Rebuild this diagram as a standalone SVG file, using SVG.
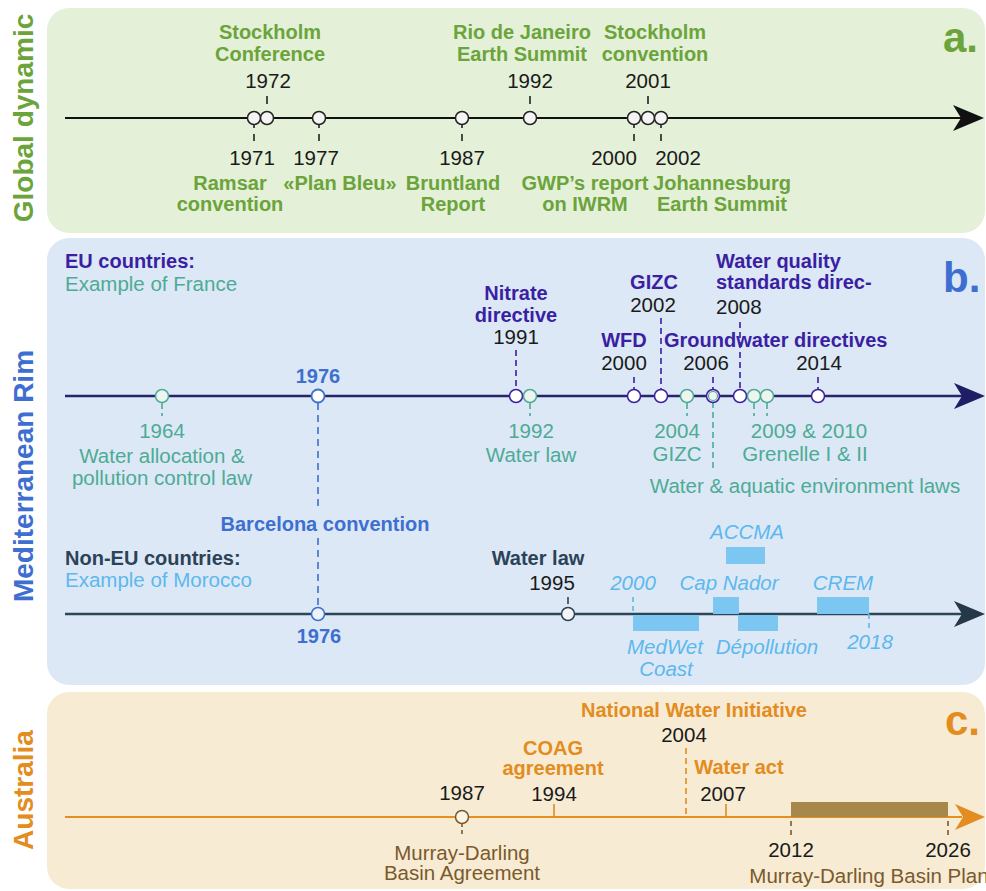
<svg xmlns="http://www.w3.org/2000/svg" width="986" height="891" viewBox="0 0 986 891">
<style>
text{font-family:"Liberation Sans",Arial,sans-serif;font-size:20.5px}
.m{text-anchor:middle}
.b{font-weight:bold;font-size:20px}
.it{font-style:italic}
.yr{fill:#1a1a1a}
.g{fill:#6ba43a}
.ind{fill:#3b1fa3}
.teal{fill:#4dab95}
.blu{fill:#3e6fd0}
.slate{fill:#2b4258}
.lb{fill:#5cb8ef}
.or{fill:#e38c20}
.br{fill:#7a5a2c}
.side{font-weight:bold;font-size:28px;text-anchor:middle}
.let{font-weight:bold;font-size:42px}
.ca{fill:#f4f4f4;stroke:#222;stroke-width:1.5}
.tk{stroke-width:1.6;fill:none}
</style>
<rect x="47" y="8" width="938" height="225" rx="22" fill="#e4f0d8"/>
<rect x="47" y="238" width="938" height="447" rx="22" fill="#dce8f5"/>
<rect x="47" y="692" width="938" height="197" rx="22" fill="#f7ebd3"/>

<text class="side g" transform="translate(33 118) rotate(-90)">Global dynamic</text>
<text class="side blu" transform="translate(33 476) rotate(-90)">Mediterranean Rim</text>
<text class="side or" transform="translate(33 790) rotate(-90)">Australia</text>
<text class="let g" x="943" y="52">a.</text>
<text class="let blu" x="943" y="292">b.</text>
<text class="let or" x="945" y="735">c.</text>

<g id="connectors">
 <!-- panel a -->
 <path d="M65 118H962" stroke="#111" stroke-width="2"/>
 <path d="M984 118L953 105L961 118L953 131Z" fill="#111"/>
 <g class="tk" stroke="#222">
  <path d="M267 96V104M530 96V104M648 96V104"/>
  <path d="M254 124V128M254 134V141M319 124V128M319 134V141M462 124V128M462 134V141M634 124V128M634 134V141M661 124V128M661 134V141"/>
 </g>
 <!-- panel b EU -->
 <path d="M65 396H962" stroke="#26246e" stroke-width="2.6"/>
 <path d="M985 396L954 383L962 396L954 409Z" fill="#1f1d63"/>
 <g class="tk" stroke="#3b1fa3" stroke-dasharray="6 4">
  <path d="M516 350V390M661 318V390M740 322V390"/>
  <path d="M634 377V390M713 377V390M818 377V390"/>
 </g>
 <g class="tk" stroke="#4dab95" stroke-dasharray="6 4">
  <path d="M162 403V416M530 403V416M687 403V416M754 403V416M767 403V416"/>
  <path d="M713 402V472"/>
 </g>
 <g class="tk" stroke="#3e6fd0" stroke-dasharray="7 5">
  <path d="M318 403V506M318 538V607"/>
 </g>
 <!-- panel b Morocco -->
 <path d="M65 614H962" stroke="#2e4457" stroke-width="2.6"/>
 <path d="M985 614L954 601L962 614L954 627Z" fill="#24384a"/>
 <g class="tk" stroke="#2b4258"><path d="M568 597V604"/></g>
 <g class="tk" stroke="#5cb8ef" stroke-dasharray="5 4"><path d="M633 597V614M869 614V632"/></g>
 <!-- panel c -->
 <path d="M65 817H962" stroke="#e58f22" stroke-width="2.2"/>
 <path d="M985 817L955 804L963 817L955 830Z" fill="#e38c20"/>
 <g class="tk" stroke="#e38c20">
  <path d="M554 804V817M726 804V817"/>
  <path d="M686 748V817" stroke-dasharray="6 4"/>
  <path d="M791 821V837M948 821V837" stroke="#7a5a2c" stroke-dasharray="5 4"/>
  <path d="M462 823V827M462 830V834" stroke="#7a5a2c"/>
 </g>
</g>

<!-- panel a nodes -->
<g id="a1971"><circle class="ca" cx="254" cy="118" r="6.5"/><text class="m yr" x="252" y="165">1971</text><text class="m b g" x="230" y="190">Ramsar</text><text class="m b g" x="230" y="211">convention</text></g>
<g id="a1972"><circle class="ca" cx="267" cy="118" r="6.5"/><text class="m b g" x="270" y="39">Stockholm</text><text class="m b g" x="270" y="61">Conference</text><text class="m yr" x="268" y="88">1972</text></g>
<g id="a1977"><circle class="ca" cx="319" cy="118" r="6.5"/><text class="m yr" x="316" y="165">1977</text><text class="m b g" x="340" y="190">«Plan Bleu»</text></g>
<g id="a1987"><circle class="ca" cx="462" cy="118" r="6.5"/><text class="m yr" x="462" y="165">1987</text><text class="m b g" x="453" y="190">Bruntland</text><text class="m b g" x="453" y="211">Report</text></g>
<g id="a1992"><circle class="ca" cx="530" cy="118" r="6.5"/><text class="m b g" x="522" y="39">Rio de Janeiro</text><text class="m b g" x="522" y="61">Earth Summit</text><text class="m yr" x="530" y="88">1992</text></g>
<g id="a2000"><circle class="ca" cx="634" cy="118" r="6.5"/><text class="m yr" x="614" y="165">2000</text><text class="m b g" x="585" y="190">GWP’s report</text><text class="m b g" x="585" y="211">on IWRM</text></g>
<g id="a2001"><circle class="ca" cx="648" cy="118" r="6.5"/><text class="m b g" x="655" y="39">Stockholm</text><text class="m b g" x="655" y="61">convention</text><text class="m yr" x="648" y="88">2001</text></g>
<g id="a2002"><circle class="ca" cx="661" cy="118" r="6.5"/><text class="m yr" x="678" y="165">2002</text><text class="m b g" x="722" y="190">Johannesburg</text><text class="m b g" x="722" y="211">Earth Summit</text></g>

<!-- panel b EU -->
<g id="eu-head"><text class="b ind" x="65" y="268">EU countries:</text><text class="teal" x="65" y="291">Example of France</text></g>
<g id="b1964"><circle cx="162" cy="396" r="6.5" fill="#eef4ee" stroke="#4dab95" stroke-width="1.5"/><text class="m teal" x="162" y="438">1964</text><text class="m teal" x="162" y="463">Water allocation &amp;</text><text class="m teal" x="162" y="485">pollution control law</text></g>
<g id="b1976"><circle cx="318" cy="396" r="6.5" fill="#fff" stroke="#3e6fd0" stroke-width="1.8"/><text class="m b blu" x="318" y="383">1976</text><text class="m b blu" x="325" y="531">Barcelona convention</text></g>
<g id="b1991"><circle cx="516" cy="396" r="6.5" fill="#fff" stroke="#3b1fa3" stroke-width="1.5"/><text class="m b ind" x="516" y="300">Nitrate</text><text class="m b ind" x="516" y="322">directive</text><text class="m yr" x="516" y="344">1991</text></g>
<g id="b1992"><circle cx="530" cy="396" r="6.5" fill="#eef4ee" stroke="#4dab95" stroke-width="1.5"/><text class="m teal" x="531" y="438">1992</text><text class="m teal" x="531" y="462">Water law</text></g>
<g id="b2000"><circle cx="634" cy="396" r="6.5" fill="#fff" stroke="#3b1fa3" stroke-width="1.5"/><text class="m b ind" x="624" y="347">WFD</text><text class="m yr" x="624" y="370">2000</text></g>
<g id="b2002"><circle cx="661" cy="396" r="6.5" fill="#fff" stroke="#3b1fa3" stroke-width="1.5"/><text class="m b ind" x="654" y="289">GIZC</text><text class="m yr" x="653" y="312">2002</text></g>
<g id="b2004"><circle cx="687" cy="396" r="6.5" fill="#eef4ee" stroke="#4dab95" stroke-width="1.5"/><text class="m teal" x="677" y="438">2004</text><text class="m teal" x="677" y="461">GIZC</text></g>
<g id="b2006"><circle cx="713" cy="396" r="6.5" fill="#eef4ee" stroke="#3b1fa3" stroke-width="1.5"/><circle cx="713" cy="396" r="4.5" fill="none" stroke="#4dab95" stroke-width="1.2"/><text class="b ind" x="664" y="347">Groundwater directives</text><text class="m yr" x="706" y="370">2006</text><text class="m teal" x="805" y="493">Water &amp; aquatic environment laws</text></g>
<g id="b2008"><circle cx="740" cy="396" r="6.5" fill="#fff" stroke="#3b1fa3" stroke-width="1.5"/><text class="b ind" x="716" y="268">Water quality</text><text class="b ind" x="716" y="289">standards direc-</text><text class="yr" x="716" y="314">2008</text></g>
<g id="b2009"><circle cx="754" cy="396" r="6.5" fill="#eef4ee" stroke="#4dab95" stroke-width="1.5"/><circle cx="767" cy="396" r="6.5" fill="#eef4ee" stroke="#4dab95" stroke-width="1.5"/><text class="m teal" x="809" y="438">2009 &amp; 2010</text><text class="m teal" x="805" y="461">Grenelle I &amp; II</text></g>
<g id="b2014"><circle cx="818" cy="396" r="6.5" fill="#fff" stroke="#3b1fa3" stroke-width="1.5"/><text class="m yr" x="819" y="370">2014</text></g>

<!-- panel b Morocco -->
<g id="ma-head"><text class="b slate" x="65" y="565">Non-EU countries:</text><text class="lb" x="65" y="587">Example of Morocco</text></g>
<g id="m1976"><circle cx="318" cy="614" r="6.5" fill="#eef3fa" stroke="#3e6fd0" stroke-width="1.5"/><text class="m b blu" x="319" y="643">1976</text></g>
<g id="m1995"><circle cx="568" cy="614" r="6.5" fill="#f4f4f4" stroke="#2b4258" stroke-width="1.5"/><text class="m b slate" x="538" y="565">Water law</text><text class="m yr" x="552" y="590">1995</text></g>
<g id="medwet"><rect x="633" y="615" width="66" height="16" fill="#7cc6f2"/><text class="m it lb" x="633" y="590">2000</text><text class="m it lb" x="665" y="654">MedWet</text><text class="m it lb" x="666" y="676">Coast</text></g>
<g id="capnador"><rect x="713" y="597" width="26" height="17" fill="#7cc6f2"/><text class="m it lb" x="729" y="590">Cap Nador</text></g>
<g id="accma"><rect x="726" y="547" width="39" height="17" fill="#7cc6f2"/><text class="m it lb" x="747" y="539">ACCMA</text></g>
<g id="depollution"><rect x="738" y="615" width="40" height="16" fill="#7cc6f2"/><text class="m it lb" x="767" y="654">Dépollution</text></g>
<g id="crem"><rect x="817" y="597" width="52" height="17" fill="#7cc6f2"/><text class="m it lb" x="843" y="590">CREM</text><text class="m it lb" x="870" y="649">2018</text></g>

<!-- panel c -->
<g id="c1987"><circle cx="462" cy="817" r="6.5" fill="#fbf3e4" stroke="#7a5a2c" stroke-width="1.5"/><text class="m yr" x="462" y="800">1987</text><text class="m br" x="462" y="860">Murray-Darling</text><text class="m br" x="462" y="880">Basin Agreement</text></g>
<g id="c1994"><text class="m b or" x="553" y="755">COAG</text><text class="m b or" x="553" y="775">agreement</text><text class="m yr" x="554" y="801">1994</text></g>
<g id="c2004"><text class="m b or" x="694" y="717">National Water Initiative</text><text class="m yr" x="684" y="742">2004</text></g>
<g id="c2007"><text class="m b or" x="739" y="774">Water act</text><text class="m yr" x="723" y="801">2007</text></g>
<g id="cplan"><rect x="791" y="802" width="157" height="15" fill="#a8884a"/><text class="m yr" x="791" y="857">2012</text><text class="m yr" x="948" y="857">2026</text><text class="m br" x="869" y="883">Murray-Darling Basin Plan</text></g>
</svg>
